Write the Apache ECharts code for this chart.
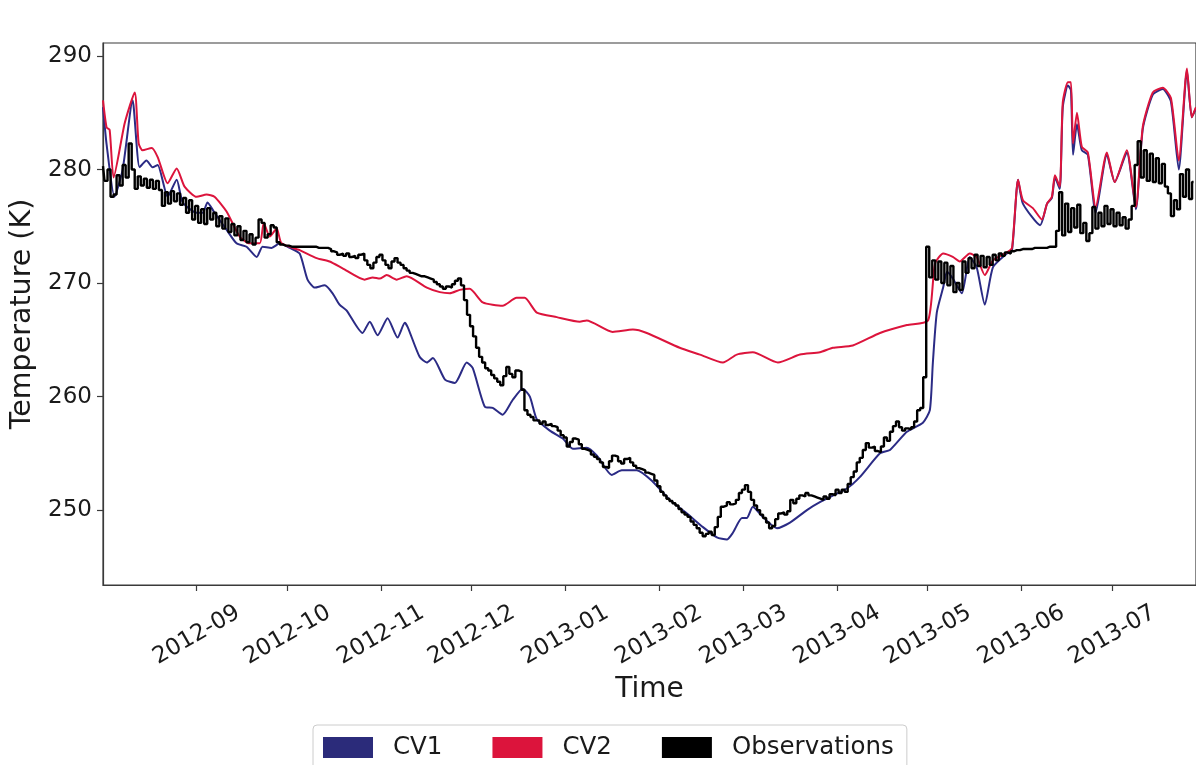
<!DOCTYPE html>
<html>
<head>
<meta charset="utf-8">
<script src="https://cdn.jsdelivr.net/npm/echarts@6/dist/echarts.min.js"></script>
<style>
html,body{margin:0;padding:0;background:#fff;}
#chart{width:1196px;height:765px;}
</style>
</head>
<body>
<div id="chart"></div>
<script>
// x values are days since 2012-08-01
const monthTickDays = [31, 61, 92, 122, 153, 184, 212, 243, 273, 304, 334];
const monthTickLabels = ['2012-09','2012-10','2012-11','2012-12','2013-01','2013-02','2013-03','2013-04','2013-05','2013-06','2013-07'];
const yTicks = [250, 260, 270, 280, 290];
const seriesNames = ['CV1', 'CV2', 'Observations'];

const cv1Days = [0,1.2,3.8,6.5,9.8,12.1,14.4,16.4,18.1,21.4,24.4,26.4,31.0,33.0,34.6,36.9,40.9,44.2,47.5,50.9,52.8,55.8,58.5,61.8,65.1,67.7,70.1,73.4,76.0,78.3,80.6,85.9,88.3,90.9,94.2,97.5,99.9,100.9,104.8,107.2,109.2,113.2,116.5,120.4,122.4,126.4,129.0,132.3,135.6,138.9,141.3,143.6,147.9,152.2,155.5,160.1,163.5,168.4,171.7,176.7,182.0,187.6,193.3,198.6,203.2,206.5,208.5,211.5,213.1,215.1,218.4,223.1,227.4,233.0,237.3,246.2,250.5,257.2,260.5,266.1,271.4,273.7,274.7,276.0,278.1,279.4,281.3,284.3,286.9,289.2,291.9,294.6,299.2,300.9,302.9,304.5,310.2,312.5,314.1,315.1,316.7,317.7,319.4,320.4,321.1,322.4,324.0,326.0,328.6,332.3,334.9,338.9,341.9,344.2,347.5,350.8,353.5,356.1,358.8,360.4,361.8];
const cv1Vals = [285.5,282.2,277.6,280.0,286.1,280.2,280.8,280.2,280.4,277.6,279.1,277.1,276.2,276.2,277.1,276.2,274.7,273.5,273.2,272.3,273.2,273.1,273.5,273.1,272.6,270.3,269.6,269.8,269.1,268.1,267.6,265.6,266.6,265.4,266.9,265.2,266.5,266.1,263.5,263.0,263.4,261.5,261.2,263.0,262.5,259.1,259.0,258.4,259.7,260.7,260.0,258.0,257.0,256.3,255.4,255.5,254.8,253.1,253.5,253.5,252.5,250.9,249.7,248.5,247.6,247.4,248.0,249.3,249.3,250.3,249.4,248.4,248.9,250.0,250.7,251.9,252.9,255.0,255.3,256.9,257.7,258.8,263.0,267.4,269.6,271.0,270.4,269.1,272.3,271.4,268.1,271.4,272.6,272.9,279.1,277.0,275.1,277.0,277.5,279.3,278.3,285.5,287.4,287.0,281.3,284.0,281.7,281.3,276.2,281.3,278.9,281.5,276.5,283.6,286.6,287.1,286.0,280.0,288.7,284.6,285.4];

const cv2Days = [0,1.2,2.2,3.5,7.2,10.5,11.8,13.1,16.1,18.1,21.4,24.4,27.0,31.0,34.3,36.9,40.9,45.2,48.5,51.9,53.2,55.2,57.5,59.1,65.1,70.7,75.0,79.3,86.6,89.3,91.6,93.9,97.2,100.5,107.2,111.5,114.8,118.1,121.4,125.7,132.3,136.9,139.6,143.6,150.2,157.8,160.1,168.7,175.4,180.0,190.9,197.6,205.2,209.8,215.1,223.4,230.7,237.3,241.6,248.2,257.2,266.1,273.1,275.4,278.1,281.3,283.6,286.9,289.2,291.9,294.6,299.2,300.9,302.9,304.5,307.8,310.8,312.5,314.1,315.1,316.7,317.7,319.4,320.4,321.1,322.4,324.0,326.0,328.6,332.3,334.9,338.9,341.9,344.2,347.5,350.8,353.5,356.1,358.8,360.4,361.8];
const cv2Vals = [286.1,283.7,283.5,279.3,284.1,286.8,282.3,281.7,281.9,281.1,278.8,280.1,278.5,277.6,277.8,277.6,276.3,274.1,273.5,273.5,275.3,274.1,274.8,273.5,272.9,272.2,271.9,271.3,270.3,270.5,270.4,270.7,270.3,270.6,269.6,269.2,269.1,269.4,269.5,268.3,268.0,268.7,268.7,267.4,267.0,266.6,266.7,265.7,265.9,265.6,264.3,263.7,263.0,263.7,263.9,263.0,263.7,263.9,264.3,264.5,265.6,266.3,266.7,271.7,272.6,272.3,271.9,272.6,272.3,270.7,272.0,272.7,273.1,279.1,277.3,276.6,275.6,277.0,277.6,279.5,278.5,285.9,287.7,287.7,282.3,285.0,282.0,281.5,276.7,281.5,278.9,281.7,276.7,283.8,286.8,287.2,286.3,280.8,288.9,284.6,285.5];

// daily observations, index = day since 2012-08-01
const obsVals = [
280.3,279.0,280.0,277.6,277.8,279.5,278.6,280.4,279.3,282.3,
280.0,278.3,279.4,278.6,279.2,278.4,279.1,278.3,279.0,278.2,
276.8,278.0,277.0,278.1,277.2,277.9,276.9,277.5,276.2,277.3,
275.6,276.8,275.3,276.5,275.2,276.6,275.6,276.2,275.0,275.9,
274.8,275.7,274.5,275.2,274.2,275.0,273.8,274.6,273.6,274.3,
273.4,274.0,275.6,275.3,274.0,274.3,275.1,274.9,273.6,273.4,
273.3,273.3,273.2,273.2,273.2,273.2,273.2,273.2,273.2,273.2,
273.2,273.1,273.1,273.1,273.1,273.0,272.8,272.7,272.5,272.6,
272.4,272.6,272.3,272.4,272.2,272.5,272.6,272.0,271.6,271.3,
271.8,272.3,272.5,272.0,271.6,271.3,271.9,272.2,271.8,271.6,
271.3,271.1,270.9,270.8,270.7,270.6,270.6,270.5,270.4,270.3,
270.1,269.9,269.7,269.5,269.7,269.6,269.9,270.2,270.4,269.8,
268.5,267.2,266.2,265.3,264.3,263.5,263.0,262.5,262.3,261.9,
261.6,261.3,261.0,261.8,262.6,262.0,261.7,262.3,262.2,260.6,
258.8,258.4,258.2,257.9,257.9,257.6,257.8,257.5,257.6,257.4,
257.3,257.0,256.6,256.4,255.6,256.0,256.3,256.2,255.8,255.4,
255.3,255.2,254.9,254.7,254.5,254.2,253.8,253.7,254.3,254.8,
254.7,254.3,254.1,254.5,254.6,254.2,253.9,253.7,253.6,253.5,
253.3,253.2,253.1,252.6,252.1,251.6,251.3,251.0,250.8,250.6,
250.4,250.1,249.8,249.6,249.4,249.0,248.7,248.4,248.0,247.7,
247.9,248.1,247.8,248.5,249.4,250.3,250.4,250.7,250.5,250.6,
250.9,251.5,251.8,252.2,251.6,250.9,250.4,250.0,249.6,249.3,
248.9,248.4,248.6,249.2,249.7,249.8,249.6,249.9,250.9,250.6,
251.0,251.3,251.2,251.5,251.3,251.2,251.1,251.0,250.9,251.2,
251.0,251.4,251.3,251.8,251.5,251.8,251.6,252.3,252.9,253.4,
254.2,254.6,255.3,255.9,255.5,255.6,255.2,255.1,255.6,256.4,
256.1,256.9,257.4,257.8,257.3,257.0,257.2,257.1,257.3,257.8,
258.8,259.0,261.7,273.2,270.5,272.0,270.3,271.9,270.0,271.8,
269.8,271.5,269.2,270.0,269.4,271.9,270.9,272.2,271.3,272.5,
271.5,272.4,271.4,272.3,271.6,272.5,272.0,272.6,272.4,272.7,
272.6,272.8,272.9,272.9,273.0,273.0,273.0,273.0,273.1,273.1,
273.1,273.1,273.1,273.2,273.2,273.2,274.6,278.0,274.2,277.0,
274.5,276.6,274.9,276.9,274.4,275.3,273.7,274.4,276.7,274.8,
276.2,275.0,276.8,275.2,276.5,275.0,276.2,275.1,275.8,274.8,
275.6,276.8,280.4,282.5,279.3,281.7,279.0,281.4,278.9,281.0,
278.8,280.5,278.5,277.9,275.9,277.3,276.5,279.6,277.6,280.0,
277.4,278.9
];

const FONT = 'DejaVu Sans';
const cv1Data = cv1Days.map((d, i) => [d, cv1Vals[i]]);
const cv2Data = cv2Days.map((d, i) => [d, cv2Vals[i]]);
const obsData = obsVals.map((v, i) => [i, v]);

const chart = echarts.init(document.getElementById('chart'), null, {renderer: 'canvas'});
chart.setOption({
  animation: false,
  backgroundColor: '#ffffff',
  grid: {
    left: 103, top: 43, right: -2, bottom: 180,
    show: true, borderColor: '#3a3a3a', borderWidth: 1.2, backgroundColor: 'transparent'
  },
  legend: {
    data: seriesNames,
    left: 313, top: 725,
    orient: 'horizontal',
    icon: 'rect',
    itemWidth: 50, itemHeight: 21, itemGap: 50,
    padding: [10, 13, 10, 10],
    borderColor: '#cccccc', borderWidth: 1, borderRadius: 4,
    textStyle: {fontFamily: FONT, fontSize: 24.5, color: '#1a1a1a', padding: [0, 0, 0, 15]}
  },
  xAxis: {
    type: 'value',
    min: 0, max: 361.8,
    name: 'Time',
    nameLocation: 'middle',
    nameGap: 84,
    nameTextStyle: {fontFamily: FONT, fontSize: 28, color: '#1a1a1a'},
    axisLine: {show: true, lineStyle: {color: '#3a3a3a', width: 1.2}},
    axisTick: {show: true, customValues: monthTickDays, length: 6, lineStyle: {color: '#3a3a3a', width: 1.2}},
    axisLabel: {
      customValues: monthTickDays,
      formatter: v => monthTickLabels[monthTickDays.indexOf(v)] || '',
      rotate: 30,
      align: 'center',
      verticalAlign: 'middle',
      margin: 50,
      fontFamily: FONT, fontSize: 23, color: '#1a1a1a'
    },
    splitLine: {show: false}
  },
  yAxis: {
    type: 'value',
    min: 243.4, max: 291.15,
    name: 'Temperature (K)',
    nameLocation: 'middle',
    nameGap: 52,
    nameTextStyle: {fontFamily: FONT, fontSize: 28.5, color: '#1a1a1a'},
    axisLine: {show: true, lineStyle: {color: '#3a3a3a', width: 1.2}},
    axisTick: {show: true, customValues: yTicks, length: 6, lineStyle: {color: '#3a3a3a', width: 1.2}},
    axisLabel: {
      customValues: yTicks,
      margin: 11,
      fontFamily: FONT, fontSize: 23, color: '#1a1a1a'
    },
    splitLine: {show: false}
  },
  series: [
    {
      name: 'CV1', type: 'line', data: cv1Data, showSymbol: false, smooth: 0.2,
      lineStyle: {color: '#2b2b85', width: 2}, itemStyle: {color: '#2b2b7a'}, z: 2
    },
    {
      name: 'CV2', type: 'line', data: cv2Data, showSymbol: false, smooth: 0.2,
      lineStyle: {color: '#dc143c', width: 2}, itemStyle: {color: '#dc143c'}, z: 3
    },
    {
      name: 'Observations', type: 'line', data: obsData, showSymbol: false, step: 'middle',
      lineStyle: {color: '#000000', width: 2.4}, itemStyle: {color: '#000000'}, z: 4
    }
  ]
});
</script>
</body>
</html>
